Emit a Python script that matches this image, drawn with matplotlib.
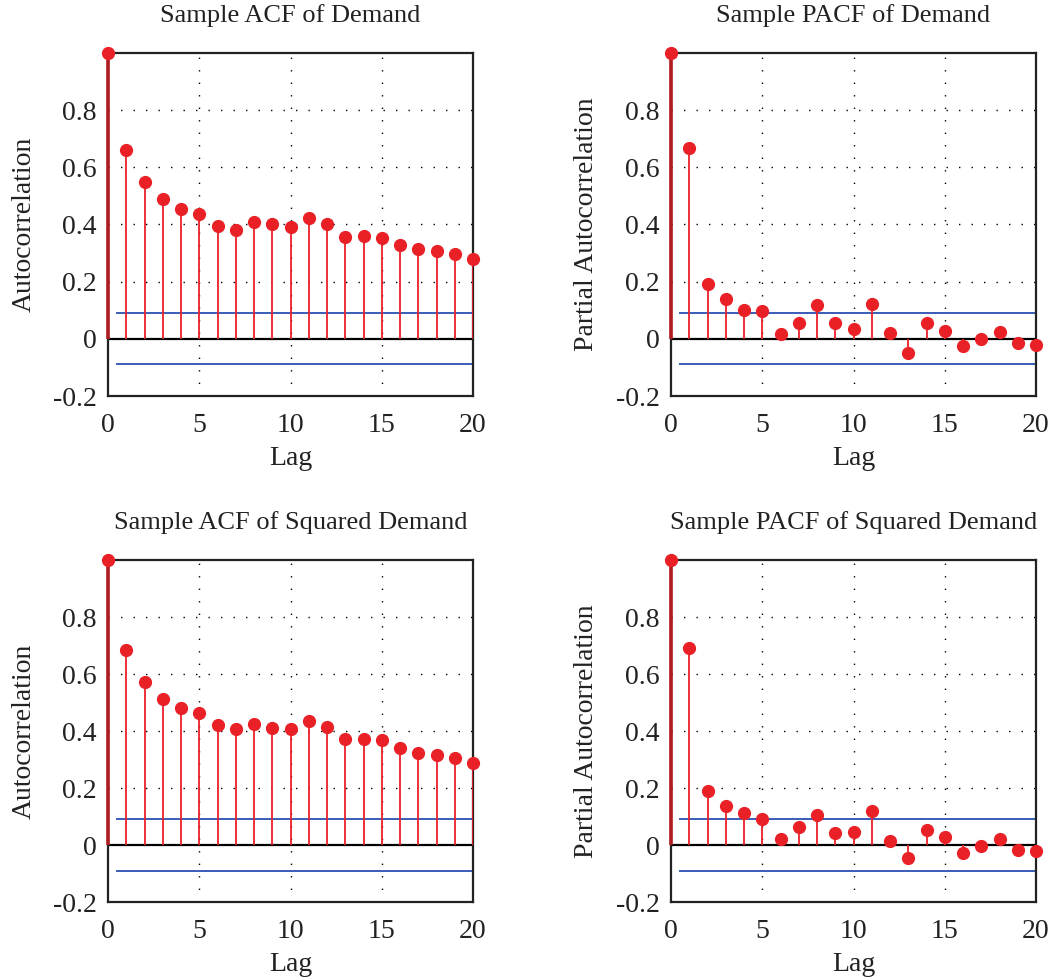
import numpy as np
import matplotlib
matplotlib.use("Agg")
from matplotlib import pyplot as plt

plt.rcParams['font.family'] = ['Liberation Serif', 'DejaVu Serif']

# sample autocorrelations, lags 0..20
lags = np.arange(0, 21)
acf_demand = [1.0, 0.661, 0.547, 0.489, 0.453, 0.438, 0.395, 0.381, 0.407, 0.402, 0.390,
              0.421, 0.403, 0.356, 0.361, 0.354, 0.328, 0.313, 0.306, 0.296, 0.280]
pacf_demand = [1.0, 0.669, 0.192, 0.140, 0.102, 0.097, 0.018, 0.056, 0.119, 0.057, 0.036,
               0.121, 0.020, -0.049, 0.057, 0.026, -0.025, -0.001, 0.023, -0.014, -0.022]
acf_sq = [1.0, 0.684, 0.572, 0.513, 0.481, 0.462, 0.420, 0.408, 0.424, 0.412, 0.406,
          0.434, 0.414, 0.372, 0.373, 0.369, 0.341, 0.323, 0.315, 0.305, 0.287]
pacf_sq = [1.0, 0.691, 0.191, 0.138, 0.111, 0.090, 0.020, 0.062, 0.105, 0.042, 0.044,
           0.119, 0.014, -0.046, 0.051, 0.029, -0.028, -0.004, 0.022, -0.018, -0.020]
bound = 0.0895  # confidence bound

titles = ["Sample ACF of Demand", "Sample PACF of Demand",
          "Sample ACF of Squared Demand", "Sample PACF of Squared Demand"]
ylabels = ["Autocorrelation", "Partial Autocorrelation",
           "Autocorrelation", "Partial Autocorrelation"]
series = [acf_demand, pacf_demand, acf_sq, pacf_sq]

yticks = [-0.2, 0, 0.2, 0.4, 0.6, 0.8]
yticklabels = ["-0.2", "0", "0.2", "0.4", "0.6", "0.8"]
xticks = [0, 5, 10, 15, 20]

W, H = 1061, 980
fig = plt.figure(figsize=(W / 100, H / 100), dpi=100)

# axes boxes in pixels: left, top, right, bottom
boxes = [(108, 53, 473, 396), (671, 53, 1036, 396),
         (108, 560, 473, 902), (671, 560, 1036, 902)]

red = '#ea2027'
dark_red = '#b01c22'
blue = '#3a5cb8'

for k in range(4):
    l, t, r, b = boxes[k]
    ax = fig.add_axes([l / W, 1 - b / H, (r - l) / W, (b - t) / H])
    vals = np.array(series[k])

    ax.set_xlim(0, 20)
    ax.set_ylim(-0.2, 1.0)

    # dotted grid
    for x in xticks[1:-1]:
        ax.axvline(x, color='black', lw=1.0, ls=(0, (1, 8)), zorder=1)
    for y in yticks[2:]:
        ax.axhline(y, color='black', lw=1.0, ls=(0, (1, 8)), zorder=1)

    # stems
    ax.vlines(lags[1:], 0, vals[1:], color=red, lw=1.3, zorder=3)
    ax.vlines(lags[0], 0, vals[0], color=dark_red, lw=2.6, zorder=4, clip_on=False)
    ax.plot(lags, vals, 'o', color=red, ms=8.5, zorder=5, clip_on=False)

    ax.axhline(0, color='black', lw=1.6, zorder=2)
    ax.plot([0.5, 20], [bound, bound], color=blue, lw=1.4, zorder=2)
    ax.plot([0.5, 20], [-bound, -bound], color=blue, lw=1.4, zorder=2)

    for s in ax.spines.values():
        s.set_linewidth(1.6)
        s.set_color('#222222')

    ax.set_xticks(xticks)
    ax.set_xticklabels([str(x) for x in xticks])
    ax.set_yticks(yticks)
    ax.set_yticklabels(yticklabels)
    ax.tick_params(length=0, labelsize=20, colors='#222222')
    ax.tick_params(axis='x', pad=12)
    ax.tick_params(axis='y', pad=8)

    ax.set_title(titles[k], fontsize=19, pad=22, color='#222222')
    ax.set_xlabel("Lag", fontsize=20, labelpad=6, color='#222222')
    ax.set_ylabel(ylabels[k], fontsize=20, labelpad=12, color='#222222')

fig.savefig("out.png", dpi=100)
